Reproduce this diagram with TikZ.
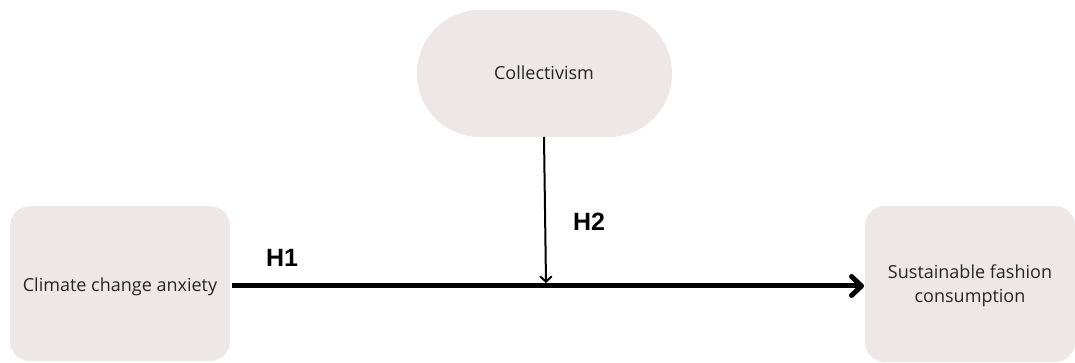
\documentclass[tikz,border=0pt]{standalone}
\usepackage{fontspec}
\setmainfont{Open Sans}
\newfontfamily\hypfont{Liberation Sans}
\usetikzlibrary{arrows.meta}
\definecolor{boxfill}{HTML}{EDE7E7}
\tikzset{
  x=1pt, y=1pt,
  concept/.style={fill=boxfill, draw=none, rounded corners=#1},
  label/.style={font=\fontsize{18}{24}\selectfont, align=center, text=black!85},
  hyp/.style={font=\hypfont\fontsize{25}{28}\selectfont\bfseries},
  mainpath/.style={line width=5pt, -{Straight Barb[length=10pt, width=19pt, line cap=round, line join=round]}},
  modpath/.style={line width=2pt, -{Straight Barb[length=5pt, width=11pt, line cap=round]}}
}
\begin{document}
\begin{tikzpicture}
\useasboundingbox (0,0) rectangle (1075,363);
% concept boxes
\fill[concept=20pt] (10,2) rectangle (230,157);
\fill[concept=63pt] (417,226) rectangle (672,353);
\fill[concept=20pt] (865,1) rectangle (1075,157);
\node[label] (cca) at (120,76) {Climate change anxiety};
\node[label] (col) at (544,290) {Collectivism};
\node[label] (sfc) at (970,77) {Sustainable fashion\\consumption};
% anchor points on the box edges
\coordinate (ccaE) at (232,77);
\coordinate (sfcW) at (864,77);
\coordinate (colS) at (544,226);
\coordinate (join) at (546,80);
% paths
\draw[mainpath] (ccaE) -- (sfcW);
\draw[modpath] (colS) -- (join);
\node[hyp] (h1) at (282,105) {H1};
\node[hyp] (h2) at (589,141) {H2};
\end{tikzpicture}
\end{document}
